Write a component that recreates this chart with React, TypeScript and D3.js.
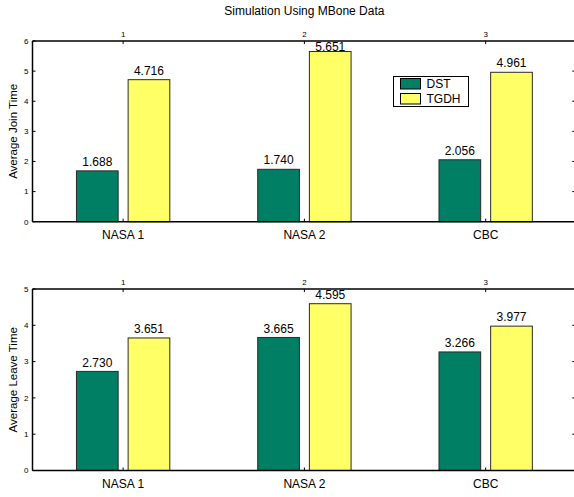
import React from "react";
import * as d3 from "d3";

const categories = ["NASA 1", "NASA 2", "CBC"];
const seriesNames = ["DST", "TGDH"];
const joinDST = [1.688, 1.74, 2.056];
const joinTGDH = [4.716, 5.651, 4.961];
const leaveDST = [2.73, 3.665, 3.266];
const leaveTGDH = [3.651, 4.595, 3.977];
const joinTicks = [0, 1, 2, 3, 4, 5, 6];
const leaveTicks = [0, 1, 2, 3, 4, 5];
const topTickLabels = ["1", "2", "3"];

const colors = ["#007F64", "#FFFF66"];
const FONT = "'Liberation Sans', Arial, sans-serif";

const W = 574;
const H = 497;

const x = d3.scaleLinear().domain([0.5, 3.5]).range([32.5, 576.3]);
const barOffset = 0.1425;
const barWidth = 0.23;

type PanelProps = {
  dst: number[];
  tgdh: number[];
  ticks: number[];
  yMax: number;
  top: number;
  bottom: number;
  ylabel: string;
  legend?: boolean;
};

function Panel({ dst, tgdh, ticks, yMax, top, bottom, ylabel, legend }: PanelProps) {
  const y = d3.scaleLinear().domain([0, yMax]).range([bottom, top]);
  const series = [dst, tgdh];
  const left = x(0.5);
  const right = x(3.5);
  const bw = x(0.5 + barWidth) - x(0.5);
  return (
    <g>
      {/* bars */}
      {series.map((vals, si) =>
        vals.map((v, i) => {
          const cx = x(i + 1 + (si === 0 ? -barOffset : barOffset));
          return (
            <rect
              key={`b${si}-${i}`}
              x={cx - bw / 2}
              y={y(v)}
              width={bw}
              height={y(0) - y(v)}
              fill={colors[si]}
              stroke="#2a2a2a"
              strokeWidth={1}
            />
          );
        })
      )}
      {/* value labels */}
      {series.map((vals, si) =>
        vals.map((v, i) => {
          const cx = x(i + 1 + (si === 0 ? -barOffset : barOffset));
          const cy = Math.max(y(v) - 9, top + 5.7);
          return (
            <text
              key={`l${si}-${i}`}
              x={cx}
              y={cy}
              dy="0.35em"
              textAnchor="middle"
              fontSize={12}
              fontFamily={FONT}
              fill="#000"
            >
              {v.toFixed(3)}
            </text>
          );
        })
      )}
      {/* axes lines */}
      <line x1={left} x2={right} y1={top} y2={top} stroke="#000" strokeWidth={1.5} />
      <line x1={left} x2={right} y1={bottom} y2={bottom} stroke="#000" strokeWidth={1.5} />
      <line x1={left} x2={left} y1={top} y2={bottom} stroke="#000" strokeWidth={1.5} />
      {/* y ticks */}
      {ticks.map((t) => (
        <g key={`yt${t}`}>
          <line x1={left} x2={left + 3} y1={y(t)} y2={y(t)} stroke="#000" strokeWidth={1} />
          {t > 0 && t < yMax && (
            <line x1={right - 4} x2={right - 1} y1={y(t)} y2={y(t)} stroke="#000" strokeWidth={1} />
          )}
          <text
            x={left - 4}
            y={y(t)}
            dy="0.35em"
            textAnchor="end"
            fontSize={8}
            fontFamily={FONT}
          >
            {t}
          </text>
        </g>
      ))}
      {/* x ticks */}
      {categories.map((c, i) => (
        <g key={`xt${i}`}>
          <line x1={x(i + 1)} x2={x(i + 1)} y1={top} y2={top + 3} stroke="#000" strokeWidth={1} />
          <line x1={x(i + 1)} x2={x(i + 1)} y1={bottom} y2={bottom - 3} stroke="#000" strokeWidth={1} />
          <text
            x={x(i + 1)}
            y={top - 7}
            dy="0.35em"
            textAnchor="middle"
            fontSize={8}
            fontFamily={FONT}
          >
            {topTickLabels[i]}
          </text>
          <text
            x={x(i + 1)}
            y={bottom + 13}
            dy="0.35em"
            textAnchor="middle"
            fontSize={12}
            fontFamily={FONT}
          >
            {c}
          </text>
        </g>
      ))}
      {/* y label */}
      <text
        transform={`translate(13,${(top + bottom) / 2}) rotate(-90)`}
        dy="0.35em"
        textAnchor="middle"
        fontSize={11.5}
        fontFamily={FONT}
      >
        {ylabel}
      </text>
      {legend && (
        <g>
          <rect x={393.5} y={76.5} width={75} height={30} fill="#fff" stroke="#000" strokeWidth={1} />
          {seriesNames.map((s, si) => (
            <g key={`lg${si}`}>
              <rect
                x={400.5}
                y={78.5 + si * 15}
                width={20}
                height={10.5}
                fill={colors[si]}
                stroke="#000"
                strokeWidth={1}
              />
              <text
                x={426.5}
                y={84 + si * 15}
                dy="0.35em"
                fontSize={12}
                fontFamily={FONT}
              >
                {s}
              </text>
            </g>
          ))}
        </g>
      )}
    </g>
  );
}

export default function App() {
  return (
    <svg
      width={W}
      height={H}
      style={{ position: "absolute", left: 0, top: 0, background: "#fff" }}
    >
      <rect x={0} y={0} width={W} height={H} fill="#fff" />
      <text
        x={(x(0.5) + x(3.5)) / 2}
        y={11}
        dy="0.35em"
        textAnchor="middle"
        fontSize={12}
        fontFamily={FONT}
      >
        Simulation Using MBone Data
      </text>
      <Panel
        dst={joinDST}
        tgdh={joinTGDH}
        ticks={joinTicks}
        yMax={6}
        top={41}
        bottom={221.7}
        ylabel="Average Join Time"
        legend
      />
      <Panel
        dst={leaveDST}
        tgdh={leaveTGDH}
        ticks={leaveTicks}
        yMax={5}
        top={289}
        bottom={470.5}
        ylabel="Average Leave Time"
      />
    </svg>
  );
}
